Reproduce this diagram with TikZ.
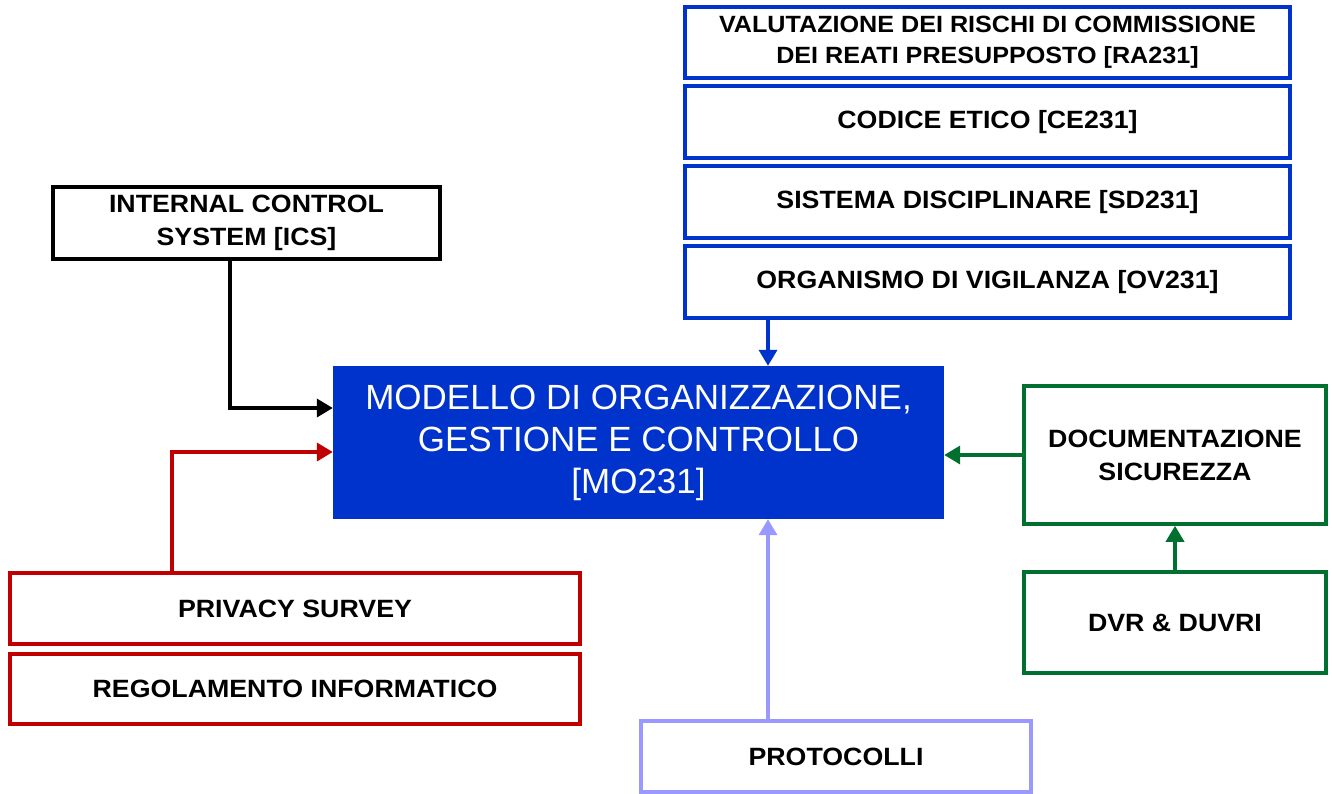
\documentclass[tikz,border=0pt]{standalone}
\usepackage{fontspec}
\setmainfont{Liberation Sans}
\newfontfamily\boxfont[FakeStretch=1.07]{Liberation Sans}
\usetikzlibrary{arrows.meta}
\definecolor{mblue}{RGB}{0,51,204}
\definecolor{mred}{RGB}{192,0,0}
\definecolor{mgreen}{RGB}{0,112,48}
\definecolor{mlav}{RGB}{153,153,255}
\tikzset{
  box/.style={draw, line width=3.6pt, inner sep=2pt, align=center, font=\boxfont\fontsize{25}{33}\selectfont\bfseries},
  conn/.style={line width=3.6pt, -{Triangle[length=16pt,width=18pt]}},
}
\begin{document}
\begin{tikzpicture}[x=1pt,y=-1pt]
\useasboundingbox (0,0) rectangle (1332,793);
% blue stack
\node[box, draw=mblue, minimum width=605pt, minimum height=71pt, font=\boxfont\fontsize{23.5}{31}\selectfont\bfseries] (ra) at (987.5,42.5) {VALUTAZIONE DEI RISCHI DI COMMISSIONE\\DEI REATI PRESUPPOSTO [RA231]};
\node[box, draw=mblue, minimum width=605pt, minimum height=72pt] (ce) at (987.5,122) {CODICE ETICO [CE231]};
\node[box, draw=mblue, minimum width=605pt, minimum height=72pt] (sd) at (987.5,202) {SISTEMA DISCIPLINARE [SD231]};
\node[box, draw=mblue, minimum width=605pt, minimum height=72pt] (ov) at (987.5,282) {ORGANISMO DI VIGILANZA [OV231]};
% main
\node[fill=mblue, minimum width=611pt, minimum height=153pt, text=white, align=center, inner sep=0pt,
  font=\fontsize{35}{42}\selectfont] (main) at (638.5,442.5) {MODELLO DI ORGANIZZAZIONE,\\GESTIONE E CONTROLLO\\{}[MO231]};
% ICS
\node[box, draw=black, minimum width=387pt, minimum height=72pt] (ics) at (246.5,223) {INTERNAL CONTROL\\SYSTEM [ICS]};
% red
\node[box, draw=mred, minimum width=570pt, minimum height=71pt] (priv) at (295,608.5) {PRIVACY SURVEY};
\node[box, draw=mred, minimum width=570pt, minimum height=70pt] (reg) at (295,689) {REGOLAMENTO INFORMATICO};
% lavender
\node[box, draw=mlav, minimum width=390pt, minimum height=71pt] (prot) at (836,756.5) {PROTOCOLLI};
% green
\node[box, draw=mgreen, minimum width=302pt, minimum height=138pt] (doc) at (1175,455) {DOCUMENTAZIONE\\SICUREZZA};
\node[box, draw=mgreen, minimum width=302pt, minimum height=101pt] (dvr) at (1175,622.5) {DVR \& DUVRI};
% connectors
\coordinate (kov) at (768,340);
\coordinate (kics) at (230,408);
\coordinate (kpriv) at (172,452);
\coordinate (kdoc) at (990,455);
\draw[conn, draw=mblue] (ov.south -| kov) -- (main.north -| kov);
\draw[conn, draw=black] (ics.south -| kics) -- (kics) -- (main.west |- kics);
\draw[conn, draw=mred] (priv.north -| kpriv) -- (kpriv) -- (main.west |- kpriv);
\draw[conn, draw=mlav] (prot.north -| kov) -- (main.south -| kov);
\draw[conn, draw=mgreen] (dvr.north) -- (doc.south);
\draw[conn, draw=mgreen] (doc.west) -- (main.east |- kdoc);
\end{tikzpicture}
\end{document}
